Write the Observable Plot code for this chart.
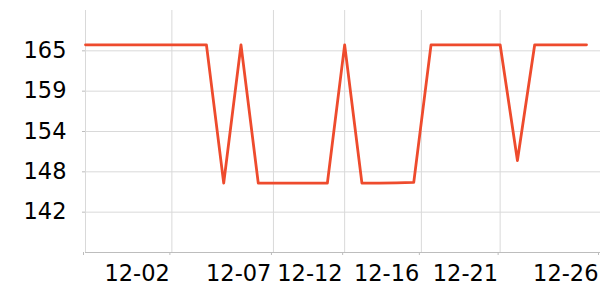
<!DOCTYPE html>
<html>
<head>
<meta charset="utf-8">
<script src="https://cdn.jsdelivr.net/npm/d3@7"></script>
<script src="https://cdn.jsdelivr.net/npm/@observablehq/plot@0.6"></script>
<style>
  html, body { margin: 0; padding: 0; background: #fff; }
  #chart svg { display: block; }
</style>
</head>
<body>
<div id="chart"></div>
<script>
// Daily dates (30 points)
const dates = [
  "2023-11-27","2023-11-28","2023-11-29","2023-11-30","2023-12-01",
  "2023-12-02","2023-12-03","2023-12-04","2023-12-05","2023-12-06",
  "2023-12-07","2023-12-08","2023-12-09","2023-12-10","2023-12-11",
  "2023-12-12","2023-12-13","2023-12-14","2023-12-15","2023-12-16",
  "2023-12-17","2023-12-18","2023-12-19","2023-12-20","2023-12-21",
  "2023-12-22","2023-12-23","2023-12-24","2023-12-25","2023-12-26"
];
const values = [
  165.85,165.85,165.85,165.85,165.85,
  165.85,165.85,165.85,146.3,165.85,
  146.3,146.3,146.3,146.3,146.3,
  165.85,146.3,146.3,146.35,146.4,
  165.85,165.85,165.85,165.85,165.85,
  149.5,165.85,165.85,165.85,165.85
];
// Axis ticks
const xTickTimes = [
  "2023-11-27T00:00:00Z","2023-12-02T00:00:00Z","2023-12-07T21:05:00Z",
  "2023-12-12T00:00:00Z","2023-12-16T10:35:00Z","2023-12-21T00:00:00Z",
  "2023-12-26T19:25:00Z"
];
const xTickLabels = ["", "12-02", "12-07", "12-12", "12-16", "12-21", "12-26"];
const yTicks = [142.2, 147.9, 153.6, 159.3, 165.0];
const yDomain = [136.5, 170.7];
const xDomain = ["2023-11-27T00:00:00Z", "2023-12-26T19:25:00Z"];

const data = dates.map((d, i) => ({date: new Date(d + "T00:00:00Z"), value: values[i]}));
const xTicks = xTickTimes.map(t => new Date(t));
const labelMap = new Map(xTicks.map((t, i) => [+t, xTickLabels[i]]));

const chart = Plot.plot({
  width: 600,
  height: 300,
  marginTop: 10,
  marginRight: 0,
  marginBottom: 48,
  marginLeft: 85,
  style: {fontFamily: "DejaVu Sans", fontSize: "22.5px", color: "#000", background: "#fff"},
  x: {type: "utc", domain: xDomain.map(t => new Date(t)), label: null},
  y: {domain: yDomain, label: null},
  marks: [
    Plot.gridX(xTicks, {stroke: "#d9d9d9", strokeOpacity: 1, strokeWidth: 1}),
    Plot.gridY(yTicks, {stroke: "#d9d9d9", strokeOpacity: 1, strokeWidth: 1}),
    Plot.ruleY([yDomain[0]], {stroke: "#bdbdbd", strokeWidth: 1}),
    Plot.axisY(yTicks, {
      label: null, tickSize: 3, tickPadding: 16, stroke: "#bdbdbd",
      tickFormat: d3.format(".0f"), fill: "#000", fontSize: 22.5
    }),
    Plot.axisX(xTicks, {
      label: null, tickSize: 3, tickPadding: 10, stroke: "#bdbdbd",
      tickFormat: d => labelMap.get(+d), textAnchor: "end", dx: -2,
      fill: "#000", fontSize: 22.5
    }),
    Plot.lineY(data, {x: "date", y: "value", stroke: "#ee4b2d", strokeWidth: 2.8})
  ]
});
document.getElementById("chart").appendChild(chart);
</script>
</body>
</html>
